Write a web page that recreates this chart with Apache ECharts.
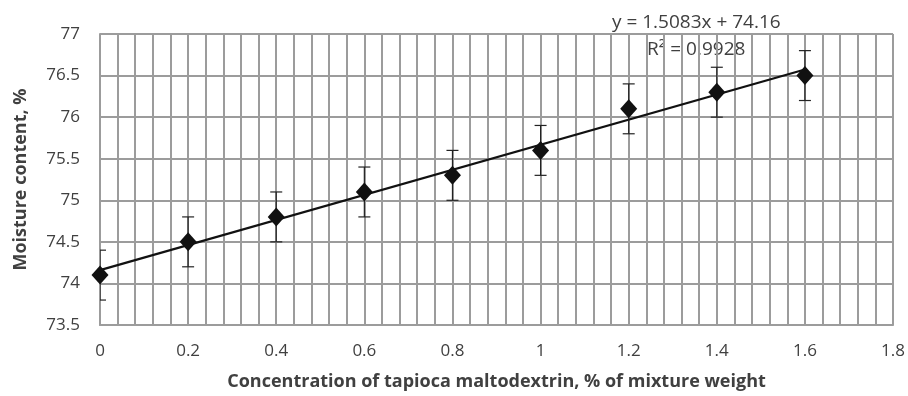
<!DOCTYPE html>
<html><head><meta charset="utf-8">
<script src="https://cdn.jsdelivr.net/npm/echarts@6/dist/echarts.min.js"></script>
<style>html,body{margin:0;padding:0;background:#fff}#c{width:908px;height:396px}</style>
</head><body><div id="c"></div>
<script>
var concentrations = [0, 0.2, 0.4, 0.6, 0.8, 1.0, 1.2, 1.4, 1.6];
var moisture = [74.1, 74.5, 74.8, 75.1, 75.3, 75.6, 76.1, 76.3, 76.5];
var errorAmount = [0.3, 0.3, 0.3, 0.3, 0.3, 0.3, 0.3, 0.3, 0.3];
var trendSlope = 1.5083;
var trendIntercept = 74.16;
var trendRange = [0, 1.6];
var equationText = 'y = 1.5083x + 74.16';
var r2Text = 'R\u00b2 = 0.9928';
var xTitle = 'Concentration of tapioca maltodextrin, % of mixture weight';
var yTitle = 'Moisture content, %';

var points = concentrations.map(function (x, i) { return [x, moisture[i]]; });
var errData = concentrations.map(function (x, i) { return [x, moisture[i] - errorAmount[i], moisture[i] + errorAmount[i]]; });
var trendData = trendRange.map(function (x) { return [x, trendSlope * x + trendIntercept]; });

var chart = echarts.init(document.getElementById('c'));
var font = '"Open Sans", sans-serif';
var txt = '#404040';
var gridCol = '#9c9c9c';
chart.setOption({
  animation: false,
  grid: { left: 100, right: 14, top: 34, bottom: 69 },
  xAxis: {
    type: 'value', min: 0, max: 1.8, interval: 0.2,
    axisLine: { show: true, lineStyle: { color: gridCol, width: 2 } },
    axisTick: { show: false },
    axisLabel: { color: txt, fontFamily: font, fontSize: 17, margin: 18 },
    splitLine: { show: true, lineStyle: { color: gridCol, width: 2 } },
    minorTick: { show: false, splitNumber: 5 },
    minorSplitLine: { show: true, lineStyle: { color: gridCol, width: 2 } },
    name: xTitle, nameLocation: 'middle', nameGap: 48,
    nameTextStyle: { color: txt, fontFamily: font, fontSize: 18, fontWeight: 'bold' }
  },
  yAxis: {
    type: 'value', min: 73.5, max: 77, interval: 0.5,
    axisLine: { show: true, lineStyle: { color: gridCol, width: 2 } },
    axisTick: { show: false },
    axisLabel: { color: txt, fontFamily: font, fontSize: 17, margin: 20 },
    splitLine: { show: true, lineStyle: { color: gridCol, width: 2 } },
    name: yTitle, nameLocation: 'middle', nameGap: 70,
    nameTextStyle: { color: txt, fontFamily: font, fontSize: 18, fontWeight: 'bold' }
  },
  graphic: [
    { type: 'text', left: 612, top: 13, style: { text: equationText, fill: txt, font: '19px ' + font } },
    { type: 'text', left: 647, top: 40, style: { text: r2Text, fill: txt, font: '19px ' + font } }
  ],
  series: [
    {
      type: 'line', data: trendData, symbol: 'none', z: 3,
      lineStyle: { color: '#111', width: 2.2 }
    },
    {
      type: 'custom', z: 4, data: errData, clip: true,
      renderItem: function (params, api) {
        var x = api.value(0);
        var lo = api.coord([x, api.value(1)]);
        var hi = api.coord([x, api.value(2)]);
        var cw = 6;
        var st = { stroke: '#222', lineWidth: 1.2 };
        return {
          type: 'group', children: [
            { type: 'line', shape: { x1: lo[0], y1: lo[1], x2: hi[0], y2: hi[1] }, style: st },
            { type: 'line', shape: { x1: lo[0] - cw, y1: lo[1], x2: lo[0] + cw, y2: lo[1] }, style: st },
            { type: 'line', shape: { x1: hi[0] - cw, y1: hi[1], x2: hi[0] + cw, y2: hi[1] }, style: st }
          ]
        };
      }
    },
    {
      type: 'scatter', data: points, symbol: 'diamond', symbolSize: [17, 19], z: 5,
      itemStyle: { color: '#111', opacity: 1 }
    }
  ]
});
</script></body></html>
